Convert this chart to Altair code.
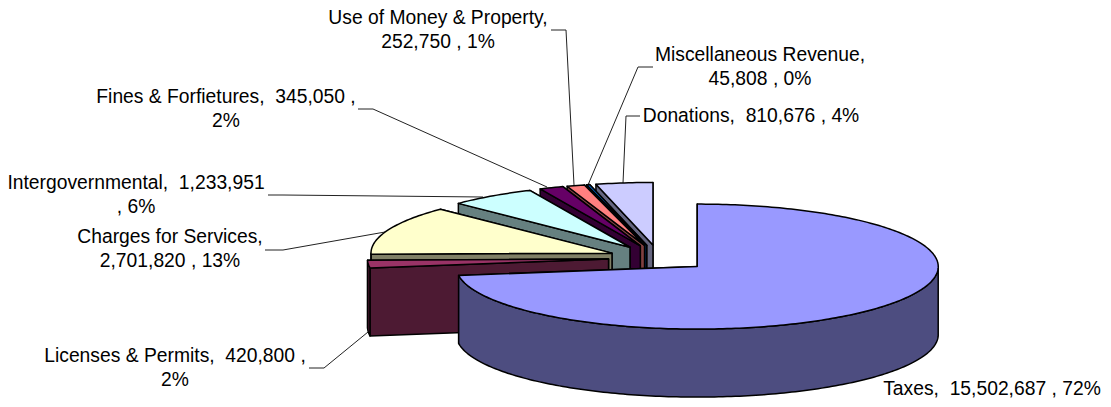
import numpy as np
import altair as alt

categories = ["Taxes", "Licenses & Permits", "Charges for Services", "Intergovernmental",
              "Fines & Forfietures", "Use of Money & Property", "Miscellaneous Revenue", "Donations"]
values = [15502687, 420800, 2701820, 1233951, 345050, 252750, 45808, 810676]
top_colors = ["#9999FF", "#993366", "#FFFFCC", "#CCFFFF", "#660066", "#FF8080", "#0066CC", "#CCCCFF"]
wall_colors = ["#4D4D80", "#4D1A33", "#808066", "#668080", "#330033", "#804040", "#003366", "#666680"]
labels = ["Taxes,\u00a0 15,502,687 , 72%", "Licenses & Permits,\u00a0 420,800 ,\n2%",
          "Charges for Services,\n2,701,820 , 13%", "Intergovernmental,\u00a0 1,233,951\n, 6%",
          "Fines & Forfietures,\u00a0 345,050 ,\n2%", "Use of Money & Property,\n252,750 , 1%",
          "Miscellaneous Revenue,\n45,808 , 0%", "Donations,\u00a0 810,676 , 4%"]

# layout (page pixels)
M = 8
CX, CY, RX, RY, DEPTH, EXPLODE = 659, 258, 241, 62.5, 68, 0.21
label_x = [992, 175, 170, 136, 226, 438, 760, 751]
label_y = [388.5, 356, 237, 183, 97, 18, 55, 116]
leaders = [None,
           [(309, 368), (324, 368), (368, 332)],
           [(265, 250), (283, 250), (385, 232)],
           [(268, 195), (283, 195), (483, 197)],
           [(358, 109), (373, 109), (547, 187)],
           [(551, 30), (566, 30), (574, 185)],
           [(653, 67), (638, 67), (588, 185)],
           [(640, 116), (626, 116), (623, 183)]]

total = sum(values)
edges = np.cumsum([0] + values) / total * 2 * np.pi


def feature(points, fill):
    pts = [[float(x) - M, float(y) - M] for x, y in points]
    pts.append(pts[0])
    return {"type": "Feature", "geometry": {"type": "Polygon", "coordinates": [pts]},
            "properties": {"fill": fill}}


slices = []
for i in range(len(values)):
    a0, a1 = edges[i], edges[i + 1]
    mid = (a0 + a1) / 2
    ax = CX + EXPLODE * RX * np.sin(mid)
    ay = CY - EXPLODE * RY * np.cos(mid)
    pt = lambda a: (ax + RX * np.sin(a), ay - RY * np.cos(a))
    n = max(2, int(np.degrees(a1 - a0)) + 2)
    angs = np.linspace(a0, a1, n)
    arc = [pt(a) for a in angs]
    faces = []
    # radial walls: the one further back first
    for a in sorted([a0, a1], key=lambda a: pt(a)[1]):
        p = pt(a)
        faces.append(feature([(ax, ay), p, (p[0], p[1] + DEPTH), (ax, ay + DEPTH)], wall_colors[i]))
    # outer wall, front half only
    front = [a for a in angs if np.cos(a) < 0]
    if len(front) >= 2:
        f = [pt(a) for a in front]
        faces.append(feature(f + [(x, y + DEPTH) for x, y in reversed(f)], wall_colors[i]))
    faces.append(feature([(ax, ay)] + arc, top_colors[i]))
    slices.append(faces)

# painter's order: back slices first, the big slice last
order = [7, 6, 5, 4, 3, 2, 1, 0]
pie_features = [f for i in order for f in slices[i]]

leader_features = [
    {"type": "Feature",
     "geometry": {"type": "LineString", "coordinates": [[x - M, y - M] for x, y in pts]},
     "properties": {"name": categories[i]}}
    for i, pts in enumerate(leaders) if pts
]

projection = alt.Projection(type="identity", scale=1, translate=[0, 0])

leader_layer = alt.Chart(alt.Data(values=leader_features)).mark_geoshape(
    filled=False, stroke="#222222", strokeWidth=1
).project(**projection.to_dict())

pie_layer = alt.Chart(alt.Data(values=pie_features)).mark_geoshape(
    stroke="black", strokeWidth=1.5, strokeJoin="round"
).encode(fill=alt.Fill("properties.fill:N", scale=None)).project(**projection.to_dict())

label_rows = [{"label": l, "x": x - M, "y": y - M} for l, x, y in zip(labels, label_x, label_y)]
text_layer = alt.Chart(alt.Data(values=label_rows)).mark_text(
    font="Liberation Sans", fontSize=19.3, color="black", align="center", baseline="middle",
    lineBreak="\n", lineHeight=24
).encode(
    x=alt.X("x:Q", scale=None, axis=None),
    y=alt.Y("y:Q", scale=None, axis=None),
    text="label:N",
)

chart = alt.layer(leader_layer, pie_layer, text_layer).properties(
    width=1095, height=391, padding=0,
    autosize=alt.AutoSizeParams(type="none"),
).configure_view(stroke=None)

chart.save("out.html", embed_options={"renderer": "svg", "actions": False})
